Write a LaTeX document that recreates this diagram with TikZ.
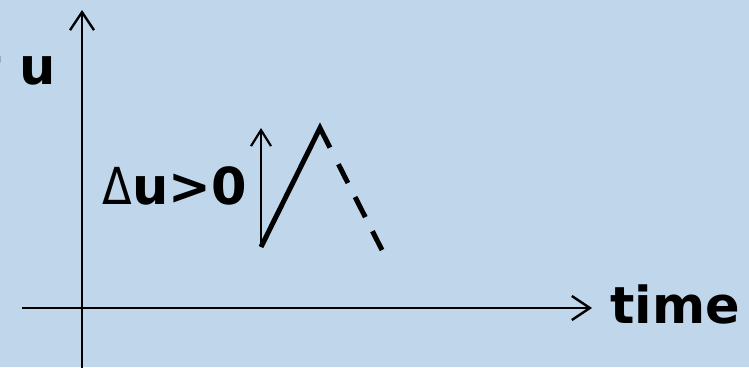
\documentclass[tikz,border=0pt]{standalone}
\usepackage{fontspec}
\setmainfont{DejaVu Sans}
\usetikzlibrary{arrows.meta}
\definecolor{bgblue}{RGB}{192,214,235}
\tikzset{
  axis/.style={line width=2.4pt,-{Straight Barb[length=18pt,width=24pt,line width=2.4pt]}},
  smallarrow/.style={line width=2.2pt,-{Straight Barb[length=16pt,width=20pt,line width=2.2pt]}},
  lbl/.style={inner sep=0pt,font=\fontsize{51}{60}\selectfont\bfseries},
  ramp/.style={line width=5pt,line join=miter,miter limit=20,
    dash pattern=on 154.8pt off 18.7pt on 21pt off 15.7pt on 22.6pt off 15.8pt on 22pt off 60pt}
}
\begin{document}
\begin{tikzpicture}[x=1pt,y=-1pt]
\fill[bgblue] (0,0) rectangle (749,367);
\useasboundingbox (0,0) rectangle (749,367);
\clip (0,0) rectangle (749,367);
\coordinate (ybot) at (82,370);
\coordinate (ytop) at (82,10);
\coordinate (xl) at (22,308);
\coordinate (xr) at (592,308);
\coordinate (sb) at (261,247);
\coordinate (st) at (261,128);
\coordinate (peak) at (320,128);
\coordinate (rend) at (382,250);
\draw[axis] (ybot) -- (ytop);
\draw[axis] (xl) -- (xr);
\draw[smallarrow] (sb) -- (st);
\draw[ramp] (sb) -- (peak) -- (rend);
\node[lbl,anchor=base east] (ulbl) at (56,84) {t u};
\node[lbl,anchor=base east] (du) at (247,204) {{\mdseries\scalebox{0.85}[1]{Δ}}u>0};
\node[lbl,anchor=base west] (time) at (610,323) {time};
\end{tikzpicture}
\end{document}
